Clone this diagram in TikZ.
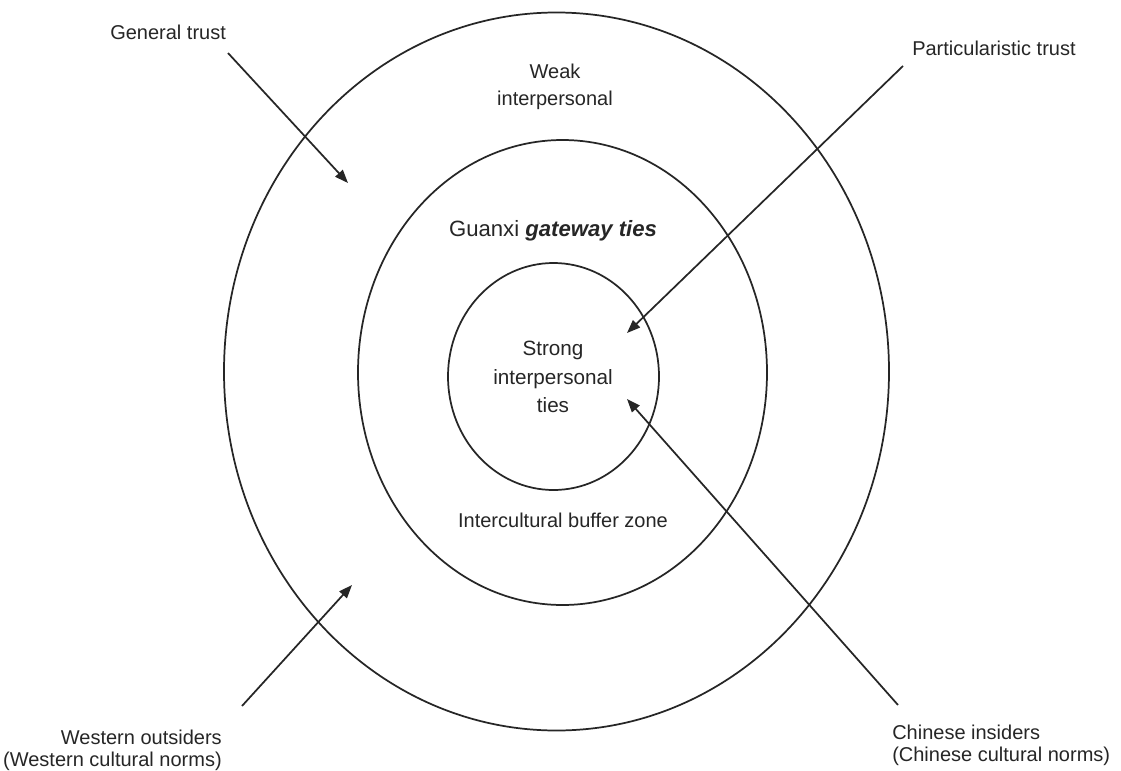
\documentclass[tikz,border=0pt]{standalone}
\usepackage{fontspec}
\setmainfont{Liberation Sans}
\usetikzlibrary{arrows.meta}
\tikzset{
  ring/.style={draw=black!85, line width=1.3pt},
  lbl/.style={inner sep=0pt, text=black!85},
  ptr/.style={draw=black!85, line width=1.3pt, -{Triangle[length=10pt,width=7.5pt]}},
}
\begin{document}
\begin{tikzpicture}[x=0.75pt,y=-0.75pt]
\useasboundingbox (0,0) rectangle (1121,771);
\fill[white] (0,0) rectangle (1121,771);
% rings
\coordinate (co) at (556.5,371.5);
\coordinate (cm) at (562.5,372.5);
\coordinate (ci) at (553.5,376.5);
\draw[ring] (co) ellipse [x radius=332.5*0.75pt, y radius=359*0.75pt];
\draw[ring] (cm) ellipse [x radius=204.5*0.75pt, y radius=232.5*0.75pt];
\draw[ring] (ci) ellipse [x radius=105.5*0.75pt, y radius=113.5*0.75pt];
% texts
\node[lbl, anchor=base west, font=\fontsize{15}{18}\selectfont] (gen) at (110,39) {General trust};
\node[lbl, anchor=base west, font=\fontsize{15}{18}\selectfont] (par) at (912,55) {Particularistic trust};
\node[lbl, align=center, font=\fontsize{15}{20.2}\selectfont] (weak) at (555,86.5) {Weak\\interpersonal};
\node[lbl, anchor=base, font=\fontsize{16.6}{19}\selectfont] (gx) at (553,236) {Guanxi \textbf{\textit{gateway ties}}};
\node[lbl, align=center, font=\fontsize{15.5}{21.4}\selectfont] (strong) at (553,377) {Strong\\interpersonal\\ties};
\node[lbl, anchor=base, font=\fontsize{15}{18}\selectfont] (buf) at (563,527) {Intercultural buffer zone};
\node[lbl, align=right, anchor=east, font=\fontsize{15}{16.5}\selectfont] (west) at (222,750) {Western outsiders\\(Western cultural norms)};
\node[lbl, align=left, anchor=west, font=\fontsize{15}{16.5}\selectfont] (chin) at (892,745) {Chinese insiders\\(Chinese cultural norms)};
% connector ends
\coordinate (gs) at (228,53);
\coordinate (ge) at (348,183);
\coordinate (ps) at (903,66);
\coordinate (pe) at (627,333);
\coordinate (ws) at (242,706);
\coordinate (we) at (352,585);
\coordinate (cs) at (898,705);
\coordinate (ce) at (627,399);
\draw[ptr] (gs) -- (ge);
\draw[ptr] (ps) -- (pe);
\draw[ptr] (ws) -- (we);
\draw[ptr] (cs) -- (ce);
\end{tikzpicture}
\end{document}
